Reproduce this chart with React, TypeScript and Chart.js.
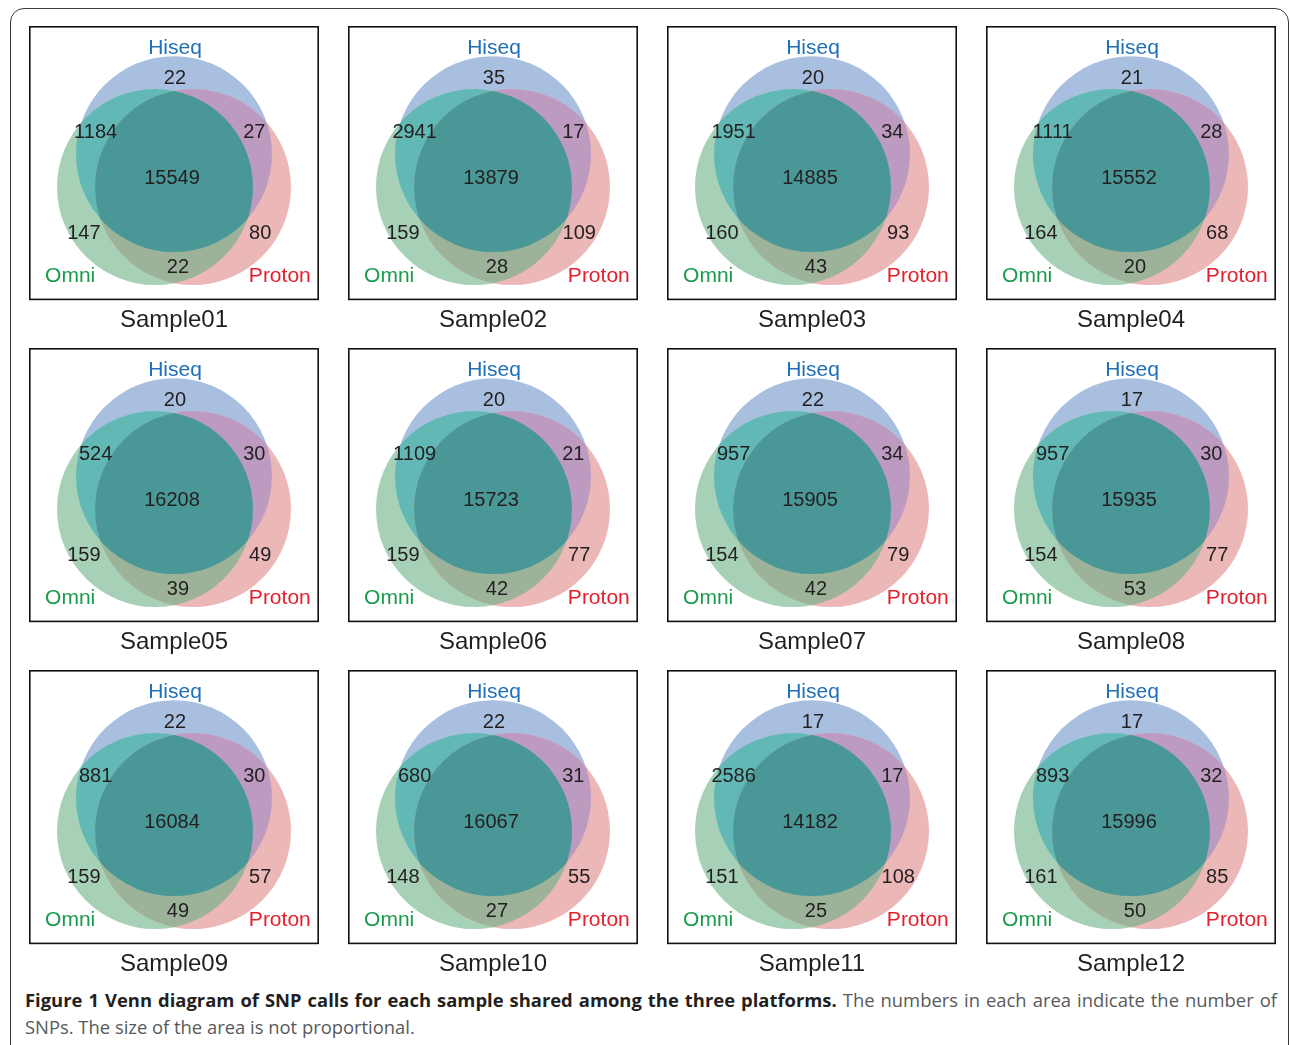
import React, { useEffect, useRef } from "react";
import { Chart, registerables } from "chart.js";

Chart.register(...registerables);

// ---- data ----
const samples = ["Sample01","Sample02","Sample03","Sample04","Sample05","Sample06","Sample07","Sample08","Sample09","Sample10","Sample11","Sample12"];
const setNames = ["Hiseq", "Omni", "Proton"];
const hiseqOnly = [22, 35, 20, 21, 20, 20, 22, 17, 22, 22, 17, 17];
const hiseqOmni = [1184, 2941, 1951, 1111, 524, 1109, 957, 957, 881, 680, 2586, 893];
const hiseqProton = [27, 17, 34, 28, 30, 21, 34, 30, 30, 31, 17, 32];
const allThree = [15549, 13879, 14885, 15552, 16208, 15723, 15905, 15935, 16084, 16067, 14182, 15996];
const omniOnly = [147, 159, 160, 164, 159, 159, 154, 154, 159, 148, 151, 161];
const protonOnly = [80, 109, 93, 68, 49, 77, 79, 77, 57, 55, 108, 85];
const omniProton = [22, 28, 43, 20, 39, 42, 42, 53, 49, 27, 25, 50];

// ---- geometry / style (not data) ----
const RADIUS = 1;
const OFFSET = 0.224;
const ANGLES = [90, 210, 330];
const SET_COLORS = ["#a8bfe0", "#a6d1b7", "#ebb7b7"];
const LABEL_COLORS = ["#1f6fb8", "#1a9a4c", "#e41f2b"];
const PAIR_COLORS = { ho: "#62b8b4", hp: "#bd9bc1", op: "#9cb39a", all: "#4a9797" };
const LABEL_POS = [[0.01, 1.305], [-1.06, -1.022], [1.08, -1.022]];
const REGION_POS = {
  h: [0.01, 0.998], ho: [-0.8, 0.445], hp: [0.82, 0.445], all: [-0.02, -0.02],
  o: [-0.92, -0.58], p: [0.88, -0.58], op: [0.04, -0.932],
};
const XR = [-1.48, 1.48];
const YR = [-1.265, 1.53];
const BOX_W = 290;
const BOX_H = 274;
const FONT = "'Liberation Sans', Arial, Helvetica, sans-serif";

const pxRadius = (chart: any) => {
  const s = chart.scales.x;
  const v = s.getPixelForValue(RADIUS) - s.getPixelForValue(0);
  return Number.isFinite(v) && v > 0 ? v : 0;
};

const vennPlugin = {
  id: "venn",
  beforeDatasetsDraw(chart: any) {
    const { ctx } = chart;
    const els = chart.getDatasetMeta(0).data;
    const rad = pxRadius(chart);
    ctx.save();
    els.forEach((e: any, i: number) => {
      ctx.beginPath();
      ctx.arc(e.x, e.y, rad, 0, Math.PI * 2);
      ctx.fillStyle = SET_COLORS[i];
      ctx.fill();
    });
    ctx.restore();
  },
  afterDatasetsDraw(chart: any, _args: any, opts: any) {
    const { ctx, chartArea, scales } = chart;
    const els = chart.getDatasetMeta(0).data;
    const rad = pxRadius(chart);
    const clipCircle = (i: number) => {
      const e = els[i];
      ctx.beginPath();
      ctx.arc(e.x, e.y, rad, 0, Math.PI * 2);
      ctx.clip();
    };
    const fillIn = (idx: number[], color: string) => {
      ctx.save();
      idx.forEach(clipCircle);
      ctx.fillStyle = color;
      ctx.fillRect(chartArea.left, chartArea.top, chartArea.width, chartArea.height);
      ctx.restore();
    };
    fillIn([0, 1], PAIR_COLORS.ho);
    fillIn([0, 2], PAIR_COLORS.hp);
    fillIn([1, 2], PAIR_COLORS.op);
    fillIn([0, 1, 2], PAIR_COLORS.all);

    const px = (p: number[]) => [scales.x.getPixelForValue(p[0]), scales.y.getPixelForValue(p[1])];
    ctx.save();
    ctx.textAlign = "center";
    ctx.textBaseline = "middle";
    ctx.font = `21px ${FONT}`;
    setNames.forEach((n, i) => {
      const [x, y] = px(LABEL_POS[i]);
      ctx.fillStyle = LABEL_COLORS[i];
      ctx.fillText(n, x, y);
    });
    ctx.font = `20px ${FONT}`;
    ctx.fillStyle = "#231f20";
    const r = opts.regions;
    Object.keys(REGION_POS).forEach((k) => {
      const [x, y] = px((REGION_POS as any)[k]);
      ctx.fillText(String(r[k]), x, y);
    });
    ctx.restore();
  },
  afterDraw(chart: any) {
    const { ctx, chartArea } = chart;
    ctx.save();
    ctx.strokeStyle = "#111";
    ctx.lineWidth = 1.6;
    ctx.strokeRect(chartArea.left + 0.8, chartArea.top + 0.8, chartArea.width - 1.6, chartArea.height - 1.6);
    ctx.restore();
  },
};

function VennPanel({ i }: { i: number }) {
  const ref = useRef<HTMLCanvasElement | null>(null);
  useEffect(() => {
    if (!ref.current) return;
    const points = ANGLES.map((a) => ({
      x: OFFSET * Math.cos((a * Math.PI) / 180),
      y: OFFSET * Math.sin((a * Math.PI) / 180),
    }));
    const chart = new Chart(ref.current, {
      type: "bubble",
      data: {
        labels: setNames,
        datasets: [
          {
            data: points as any,
            backgroundColor: SET_COLORS,
            hoverBackgroundColor: SET_COLORS,
            borderWidth: 0,
            clip: false,
            radius: (ctx: any) => pxRadius(ctx.chart),
          } as any,
        ],
      },
      options: {
        responsive: false,
        animation: false,
        layout: { padding: { left: 0, right: 12, top: 0, bottom: 0 } },
        events: [],
        scales: {
          x: { type: "linear", min: XR[0], max: XR[1], display: false },
          y: { type: "linear", min: YR[0], max: YR[1], display: false },
        },
        plugins: {
          legend: { display: false },
          tooltip: { enabled: false },
          title: {
            display: true,
            position: "bottom",
            text: samples[i],
            color: "#231f20",
            font: { family: FONT, size: 24, weight: "normal" as any, lineHeight: 1.2 },
            padding: { top: 6, bottom: 2 },
          },
          venn: {
            regions: {
              h: hiseqOnly[i], ho: hiseqOmni[i], hp: hiseqProton[i], all: allThree[i],
              o: omniOnly[i], p: protonOnly[i], op: omniProton[i],
            },
          },
        } as any,
      },
      plugins: [vennPlugin],
    });
    return () => chart.destroy();
  }, [i]);
  const col = i % 4;
  const row = Math.floor(i / 4);
  return (
    <div style={{ position: "absolute", left: 29 + col * 319, top: 26 + row * 322 }}>
      <canvas ref={ref} width={BOX_W + 12} height={BOX_H + 37} style={{ display: "block" }} />
    </div>
  );
}

export default function App() {
  return (
    <div style={{ position: "relative", width: 1290, height: 1045, overflow: "hidden", background: "#fff" }}>
      <style>{`body{margin:0;overflow:hidden;background:#fff}`}</style>
      <div
        style={{
          position: "absolute", left: 10, top: 8, width: 1279, height: 1100,
          border: "1.5px solid #3a3a3a", borderRadius: 14, boxSizing: "border-box",
        }}
      />
      {samples.map((_, i) => (
        <VennPanel key={i} i={i} />
      ))}
      <div
        style={{
          position: "absolute", left: 25, top: 986, width: 1252,
          fontFamily: "'Open Sans', sans-serif", fontSize: 18.4, lineHeight: "27px",
          textAlign: "justify", color: "#58595b",
        }}
      >
        <b style={{ color: "#231f20" }}>Figure 1 Venn diagram of SNP calls for each sample shared among the three platforms.</b>{" "}
        The numbers in each area indicate the number of SNPs. The size of the area is not proportional.
      </div>
    </div>
  );
}
